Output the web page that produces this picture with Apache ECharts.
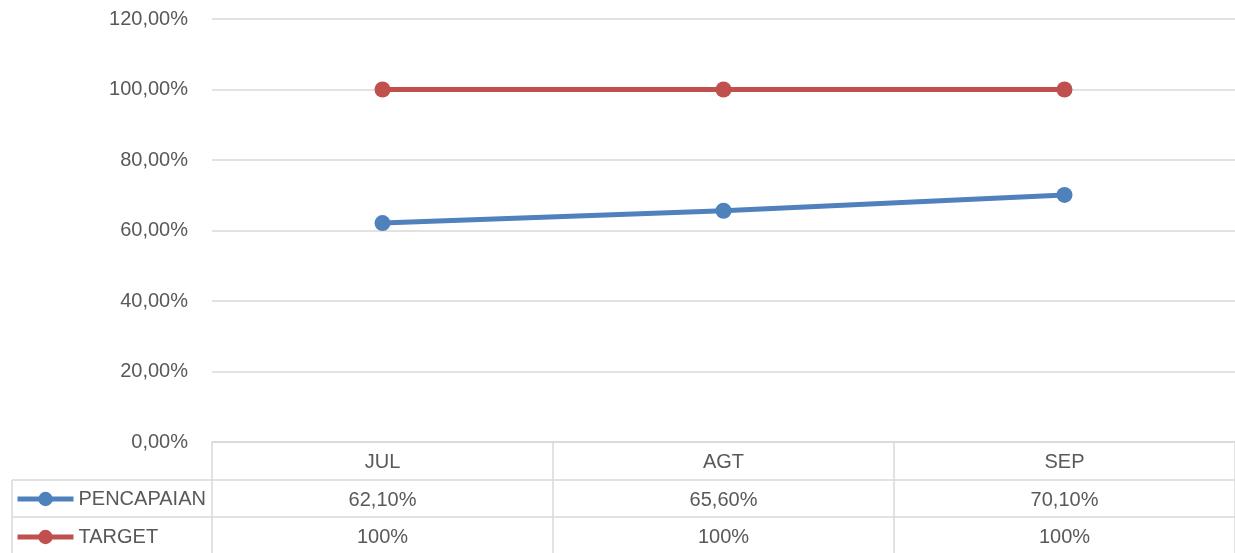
<!DOCTYPE html>
<html>
<head>
<meta charset="utf-8">
<script src="https://cdn.jsdelivr.net/npm/echarts@6/dist/echarts.min.js"></script>
<style>
html,body{margin:0;padding:0;background:#fff;}
#main{width:1235px;height:553px;}
</style>
</head>
<body>
<div id="main"></div>
<script>
const categories = ['JUL', 'AGT', 'SEP'];
const pencapaian = [62.1, 65.6, 70.1];
const target = [100, 100, 100];
const seriesNames = ['PENCAPAIAN', 'TARGET'];
const yTicks = { min: 0, max: 120, interval: 20 };

const FONT = '"Liberation Sans", Arial, sans-serif';
const TXT = '#595959';
const GRIDC = '#d9d9d9';
const fmt2 = v => v.toFixed(2).replace('.', ',') + '%';
const fmt0 = v => Math.round(v) + '%';

const chart = echarts.init(document.getElementById('main'), null, { renderer: 'canvas' });

const baseLabel = { color: TXT, fontFamily: FONT, fontSize: 20, margin: 10 };
const legendBase = {
  orient: 'horizontal', left: 15, padding: 0,
  itemWidth: 56, itemHeight: 18, itemGap: 4,
  lineStyle: { width: 5 },
  textStyle: { color: TXT, fontFamily: FONT, fontSize: 20 }
};

const option = {
  animation: false,
  backgroundColor: '#fff',
  grid: { left: 212, right: 0, top: 19, bottom: 111, containLabel: false },
  legend: [
    Object.assign({}, legendBase, { top: 489, data: [seriesNames[0]] }),
    Object.assign({}, legendBase, { top: 527, data: [seriesNames[1]] })
  ],
  xAxis: [
    {
      type: 'category', data: categories, position: 'bottom', boundaryGap: true,
      axisLine: { show: true, lineStyle: { color: GRIDC, width: 1.5 } },
      axisTick: { show: true, length: 111, interval: 0, lineStyle: { color: GRIDC, width: 1.5 } },
      axisLabel: Object.assign({}, baseLabel)
    },
    {
      type: 'category', data: categories, position: 'bottom', offset: 38, boundaryGap: true,
      axisLine: { show: false }, axisTick: { show: false },
      axisLabel: Object.assign({}, baseLabel, { formatter: (v, i) => fmt2(pencapaian[i]) })
    },
    {
      type: 'category', data: categories, position: 'bottom', offset: 75, boundaryGap: true,
      axisLine: { show: false }, axisTick: { show: false },
      axisLabel: Object.assign({}, baseLabel, { formatter: (v, i) => fmt0(target[i]) })
    }
  ],
  yAxis: {
    type: 'value', min: yTicks.min, max: yTicks.max, interval: yTicks.interval,
    axisLine: { show: false }, axisTick: { show: false },
    splitLine: { lineStyle: { color: GRIDC, width: 1.5 } },
    axisLabel: { color: TXT, fontFamily: FONT, fontSize: 20, margin: 24, formatter: v => fmt2(v) }
  },
  series: [
    {
      name: seriesNames[0], type: 'line', data: pencapaian, xAxisIndex: 0,
      symbol: 'circle', symbolSize: 16,
      lineStyle: { color: '#4F81BD', width: 5 },
      itemStyle: { color: '#4F81BD' }
    },
    {
      name: seriesNames[1], type: 'line', data: target, xAxisIndex: 0,
      symbol: 'circle', symbolSize: 16,
      lineStyle: { color: '#C0504D', width: 5 },
      itemStyle: { color: '#C0504D' }
    }
  ],
  graphic: [
    { type: 'line', shape: { x1: 12, y1: 480, x2: 1235, y2: 480 }, style: { stroke: GRIDC, lineWidth: 1.5 }, silent: true },
    { type: 'line', shape: { x1: 12, y1: 517, x2: 1235, y2: 517 }, style: { stroke: GRIDC, lineWidth: 1.5 }, silent: true },
    { type: 'line', shape: { x1: 12, y1: 480, x2: 12, y2: 553 }, style: { stroke: GRIDC, lineWidth: 1.5 }, silent: true }
  ]
};
chart.setOption(option);
</script>
</body>
</html>
